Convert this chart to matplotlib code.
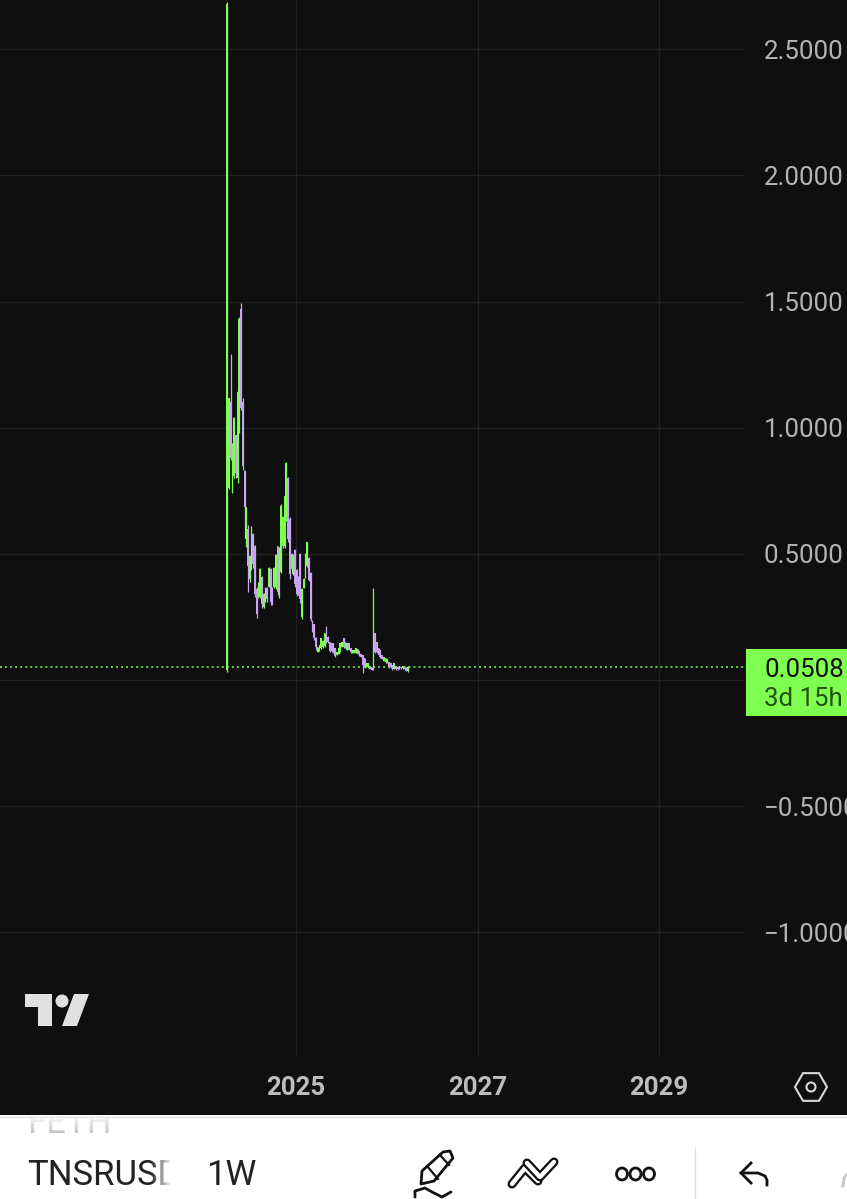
import matplotlib
matplotlib.use('Agg')
import matplotlib.pyplot as plt
import matplotlib.dates as mdates
import numpy as np
import pandas as pd
from matplotlib.patches import Polygon, Circle, Ellipse, Rectangle, RegularPolygon

plt.rcParams['font.family'] = ['Roboto', 'DejaVu Sans']

# Weekly candles
opens = [0.04, 0.76, 1.10, 0.75, 0.81, 0.97, 0.80, 1.00, 1.47, 1.10,
         0.83, 0.56, 0.60, 0.40, 0.45, 0.58, 0.53, 0.36, 0.33, 0.33,
         0.41, 0.29, 0.31, 0.365, 0.37, 0.44, 0.365, 0.37, 0.37, 0.53,
         0.34, 0.43, 0.53, 0.53, 0.635, 0.80, 0.64, 0.50, 0.42, 0.515,
         0.435, 0.41, 0.50, 0.25, 0.365, 0.405, 0.45, 0.485, 0.425, 0.235,
         0.22, 0.168, 0.112, 0.116, 0.125, 0.13, 0.135, 0.185, 0.172, 0.15,
         0.145, 0.145, 0.125, 0.10, 0.105, 0.115, 0.132, 0.165, 0.15, 0.12,
         0.145, 0.125, 0.108, 0.108, 0.108, 0.122, 0.114, 0.102, 0.098, 0.086,
         0.053, 0.05, 0.054, 0.05, 0.045, 0.185, 0.15, 0.125, 0.118, 0.098,
         0.077, 0.086, 0.068, 0.07, 0.066, 0.058, 0.045, 0.054, 0.05, 0.045,
         0.051, 0.046, 0.051, 0.049, 0.036]
highs = [2.687, 1.118, 1.292, 0.939, 1.043, 0.971, 1.153, 1.439, 1.494, 1.118,
         0.832, 0.686, 0.614, 0.495, 0.610, 0.583, 0.535, 0.369, 0.388, 0.444,
         0.412, 0.345, 0.369, 0.369, 0.448, 0.444, 0.369, 0.448, 0.499, 0.531,
         0.527, 0.698, 0.650, 0.733, 0.864, 0.805, 0.646, 0.503, 0.499, 0.519,
         0.440, 0.412, 0.503, 0.365, 0.404, 0.503, 0.547, 0.488, 0.428, 0.238,
         0.222, 0.170, 0.131, 0.139, 0.166, 0.159, 0.186, 0.214, 0.174, 0.151,
         0.147, 0.147, 0.127, 0.111, 0.127, 0.147, 0.151, 0.166, 0.151, 0.147,
         0.147, 0.127, 0.119, 0.119, 0.127, 0.123, 0.115, 0.103, 0.099, 0.087,
         0.067, 0.067, 0.055, 0.052, 0.365, 0.186, 0.151, 0.127, 0.119, 0.099,
         0.091, 0.087, 0.083, 0.071, 0.067, 0.059, 0.067, 0.055, 0.052, 0.055,
         0.052, 0.055, 0.052, 0.050, 0.055]
lows = [0.03, 0.757, 0.872, 0.741, 0.80, 0.80, 0.78, 0.979, 1.07, 0.832,
        0.575, 0.527, 0.349, 0.388, 0.436, 0.444, 0.329, 0.246, 0.325, 0.325,
        0.285, 0.285, 0.309, 0.309, 0.369, 0.297, 0.297, 0.365, 0.361, 0.337,
        0.325, 0.424, 0.523, 0.523, 0.630, 0.547, 0.400, 0.436, 0.416, 0.369,
        0.333, 0.337, 0.305, 0.242, 0.365, 0.404, 0.448, 0.392, 0.234, 0.190,
        0.159, 0.12, 0.111, 0.115, 0.123, 0.127, 0.131, 0.147, 0.147, 0.111,
        0.111, 0.107, 0.091, 0.099, 0.103, 0.111, 0.131, 0.127, 0.127, 0.119,
        0.119, 0.107, 0.107, 0.107, 0.107, 0.103, 0.095, 0.091, 0.028, 0.048,
        0.052, 0.048, 0.044, 0.040, 0.040, 0.107, 0.107, 0.099, 0.087, 0.083,
        0.075, 0.067, 0.067, 0.048, 0.048, 0.040, 0.044, 0.040, 0.040, 0.044,
        0.044, 0.044, 0.040, 0.036, 0.033]
closes = [2.68, 1.118, 0.88, 0.93, 1.04, 0.82, 1.14, 1.43, 1.08, 0.85,
          0.686, 0.686, 0.45, 0.49, 0.60, 0.46, 0.34, 0.26, 0.385, 0.44,
          0.30, 0.34, 0.365, 0.32, 0.445, 0.31, 0.30, 0.445, 0.495, 0.35,
          0.52, 0.69, 0.645, 0.73, 0.86, 0.56, 0.42, 0.44, 0.495, 0.38,
          0.34, 0.34, 0.32, 0.36, 0.40, 0.50, 0.545, 0.395, 0.24, 0.195,
          0.165, 0.13, 0.13, 0.138, 0.165, 0.155, 0.185, 0.15, 0.15, 0.115,
          0.115, 0.11, 0.095, 0.11, 0.125, 0.145, 0.15, 0.13, 0.13, 0.145,
          0.12, 0.11, 0.118, 0.118, 0.125, 0.105, 0.097, 0.092, 0.06, 0.05,
          0.066, 0.066, 0.045, 0.041, 0.36, 0.11, 0.11, 0.10, 0.09, 0.085,
          0.09, 0.07, 0.082, 0.05, 0.05, 0.042, 0.066, 0.042, 0.042, 0.054,
          0.046, 0.054, 0.042, 0.038, 0.0508]

dates = pd.date_range('2024-03-30', periods=len(opens), freq='7D')
price_ticks = [-1.0, -0.5, 0.5, 1.0, 1.5, 2.0, 2.5]
grid_ticks = [-1.0, -0.5, 0.0, 0.5, 1.0, 1.5, 2.0, 2.5]
year_ticks = [2025, 2027, 2029]
last_price = 0.0508
countdown = '3d 15h'
symbol = 'TNSRUSD'
interval = '1W'

GREEN = '#7FFF4F'
PURPLE = '#C8A4F2'
BG = '#0F0F0F'
GRID = '#222222'
LABEL = '#B4B4B4'

W, H = 847, 1199
fig = plt.figure(figsize=(W / 100, H / 100), dpi=100, facecolor='white')

# chart pane, price labels sit to the right of it
ax = fig.add_axes([0, 1 - 1056 / H, 745 / W, 1056 / H], facecolor=BG)
fig.patches.append(Rectangle((0, 1 - 1115 / H), 1, 1115 / H, transform=fig.transFigure,
                             facecolor=BG, edgecolor='none', zorder=-5))

x = mdates.date2num(dates)
x0 = mdates.date2num(pd.Timestamp('2025-01-01'))
px_per_day = 181.5 / 730
ax.set_xlim(x0 - 296 / px_per_day, x0 + 449 / px_per_day)
ax.set_ylim(-376 / 252.3, 680 / 252.3)

opens = np.array(opens)
closes = np.array(closes)
colors = [GREEN if c >= o else PURPLE for o, c in zip(opens, closes)]
ax.vlines(x, lows, highs, colors=colors, linewidth=0.9, zorder=3)
ax.bar(x, np.abs(closes - opens), bottom=np.minimum(opens, closes), width=6.6,
       color=colors, linewidth=0, zorder=3)

ax.axhline(last_price, color=GREEN, linewidth=1.1, linestyle=(0, (1.3, 2.0)), zorder=2)

ax.set_yticks(grid_ticks)
ax.set_yticklabels([f'{v:.4f}'.replace('-', '\u2212') if v != 0 else '' for v in grid_ticks])
ax.yaxis.tick_right()
ax.set_xticks([mdates.date2num(pd.Timestamp(f'{y}-01-01')) for y in year_ticks])
ax.set_xticklabels([str(y) for y in year_ticks], fontweight='bold')
ax.tick_params(axis='y', length=0, pad=13.5, labelsize=18.6, labelcolor=LABEL)
ax.tick_params(axis='x', length=0, pad=14.5, labelsize=18.5, labelcolor='#BDBDBD')
ax.grid(True, color=GRID, linewidth=0.9)
ax.set_axisbelow(True)
for s in ax.spines.values():
    s.set_visible(False)

# everything else (price tag, logo, toolbar) in screen pixels
ui = fig.add_axes([0, 0, 1, 1], facecolor='none')
ui.set_xlim(0, W)
ui.set_ylim(H, 0)
ui.axis('off')

# price tag
ui.add_patch(Rectangle((746, 649), 101, 67, facecolor=GREEN, edgecolor='none'))
ui.text(764, 670, f'{last_price:.4f}', color='#0A0A0A', fontsize=18.6, va='center', ha='left')
ui.text(764, 699, countdown, color='#235212', fontsize=18.6, va='center', ha='left')

# TradingView logo
LOGO = '#E0E0E0'
ui.add_patch(Polygon([(25, 994), (52, 994), (52, 1026), (38, 1026), (38, 1007), (25, 1007)],
                     facecolor=LOGO, edgecolor='none'))
ui.add_patch(Circle((62, 1001), 6.5, facecolor=LOGO, edgecolor='none'))
ui.add_patch(Polygon([(74, 994), (89, 994), (77, 1026), (62, 1026)], facecolor=LOGO, edgecolor='none'))

# settings hexagon
ui.add_patch(RegularPolygon((811, 1087), 6, radius=16, orientation=np.pi / 6, facecolor='none',
                            edgecolor='#D8D8D8', linewidth=1.5))
ui.add_patch(Circle((811, 1087), 4.5, facecolor='none', edgecolor='#D8D8D8', linewidth=1.5))

# white toolbar
ui.add_patch(Rectangle((0, 1115), W, 84, facecolor='white', edgecolor='none'))
ui.plot([0, W], [1116.5, 1116.5], color='#DDDDDD', linewidth=1)

feth = ui.text(27, 1133, 'FETH', color='#BDBDBD', fontsize=25, va='baseline', ha='left', clip_on=True)
feth.set_clip_path(Rectangle((0, 1118), 200, 30, transform=ui.transData))
sym = ui.text(27, 1185, symbol, color='#222222', fontsize=25, va='baseline', ha='left', clip_on=True)
sym.set_clip_path(Rectangle((0, 1150), 170, 45, transform=ui.transData))
ui.text(206, 1185, interval, color='#222222', fontsize=25, va='baseline', ha='left')

# fades over the clipped labels
fade = np.ones((1, 30, 4))
fade[0, :, 3] = np.linspace(0, 1, 30)
ui.imshow(fade, extent=(150, 172, 1195, 1150), aspect='auto', zorder=5)
fade_top = np.ones((20, 1, 4))
fade_top[:, 0, 3] = np.linspace(0.8, 0, 20)
ui.imshow(fade_top, extent=(20, 120, 1136, 1118), aspect='auto', zorder=5)
ui.set_xlim(0, W)
ui.set_ylim(H, 0)

INK = '#111111'
# pencil
ui.add_patch(Polygon([(421, 1184), (422, 1171), (443, 1152), (450, 1151), (453, 1158), (434, 1181)],
                     facecolor='white', edgecolor=INK, linewidth=2, joinstyle='round'))
ui.plot([427, 438], [1166, 1179], color=INK, linewidth=1.6)
ui.plot([440, 449], [1155, 1165], color=INK, linewidth=1.6)
ui.plot([415, 415, 425, 432, 442, 451], [1197, 1191, 1188, 1192, 1197, 1192], color=INK,
        linewidth=2, solid_capstyle='round')

# trend tool icon
for xs, ys in [([512, 525, 538], [1184, 1168, 1181]), ([527, 540, 554], [1163, 1177, 1162])]:
    ui.plot(xs, ys, color=INK, linewidth=6.5, solid_capstyle='round', solid_joinstyle='round')
    ui.plot(xs, ys, color='white', linewidth=3.2, solid_capstyle='round', solid_joinstyle='round')

# three dots
for cx in [622, 635.5, 649]:
    ui.add_patch(Ellipse((cx, 1174), 11, 12, facecolor='none', edgecolor=INK, linewidth=2))

ui.plot([695, 695], [1148, 1199], color='#E2E2E2', linewidth=1)

# undo arrow
ui.plot([751, 741, 751], [1163, 1173, 1183], color=INK, linewidth=2, solid_joinstyle='miter')
ui.plot([741, 758, 765, 767, 767], [1173, 1173, 1176, 1180, 1185], color=INK, linewidth=2)
ui.plot([847, 844, 843], [1174, 1178, 1186], color='#C8C8C8', linewidth=2)

fig.savefig('out.png', dpi=100, facecolor='white')
